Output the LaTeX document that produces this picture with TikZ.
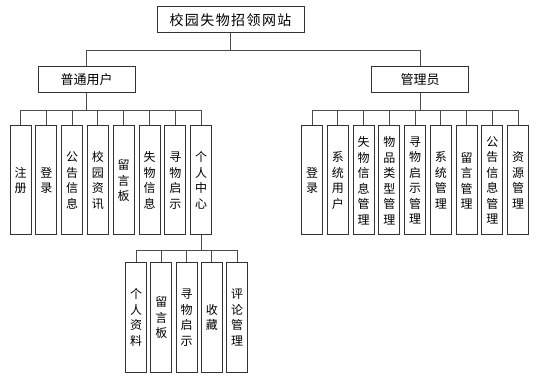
\documentclass[tikz,border=0pt]{standalone}
\usepackage{fontspec}
\newfontfamily\cjk{Noto Sans CJK SC}
\begin{document}
\begin{tikzpicture}[x=1pt,y=-1pt,
  box/.style={draw=black!80, line width=1pt, fill=white, inner sep=0pt, align=center},
  hbox/.style={box, minimum width=97pt, minimum height=26pt, font=\cjk\fontsize{13}{15}\selectfont},
  vbox/.style={box, minimum width=21pt, minimum height=109pt, font=\cjk\fontsize{12}{15.5}\selectfont},
  conn/.style={draw=black!70, line width=1pt}]
\useasboundingbox (0,0) rectangle (539,377);
% top levels
\node[hbox, minimum width=147pt, font=\cjk\fontsize{14}{16}\selectfont\addfontfeature{LetterSpace=10}] (root) at (230.5,20) {校园失物招领网站};
\node[hbox] (u) at (86.5,80) {普通用户};
\node[hbox] (a) at (420,80) {管理员};
\draw[conn] (root.south) -- ++(0,17) -| (u.north);
\draw[conn] (root.south) -- ++(0,17) -| (a.north);
% user children
\foreach \i/\t in {0/注\\册, 1/登\\录, 2/公\\告\\信\\息, 3/校\\园\\资\\讯, 4/留\\言\\板, 5/失\\物\\信\\息, 6/寻\\物\\启\\示, 7/个\\人\\中\\心}{
  \node[vbox] (L\i) at (20.5+25.8*\i,180.5) {\t};
  \draw[conn] (u.south) -- ++(0,17) -| (L\i.north);
}
% admin children
\foreach \i/\t in {0/登\\录, 1/系\\统\\用\\户, 2/失\\物\\信\\息\\管\\理, 3/物\\品\\类\\型\\管\\理, 4/寻\\物\\启\\示\\管\\理, 5/系\\统\\管\\理, 6/留\\言\\管\\理, 7/公\\告\\信\\息\\管\\理, 8/资\\源\\管\\理}{
  \node[vbox] (R\i) at (312+25.75*\i,180.5) {\t};
  \draw[conn] (a.south) -- ++(0,17) -| (R\i.north);
}
% personal center children
\foreach \i/\t in {0/个\\人\\资\\料, 1/留\\言\\板, 2/寻\\物\\启\\示, 3/收\\藏, 4/评\\论\\管\\理}{
  \node[vbox] (P\i) at (136+25.25*\i,317.5) {\t};
  \draw[conn] (L7.south) -- ++(0,15) -| (P\i.north);
}
\end{tikzpicture}
\end{document}
